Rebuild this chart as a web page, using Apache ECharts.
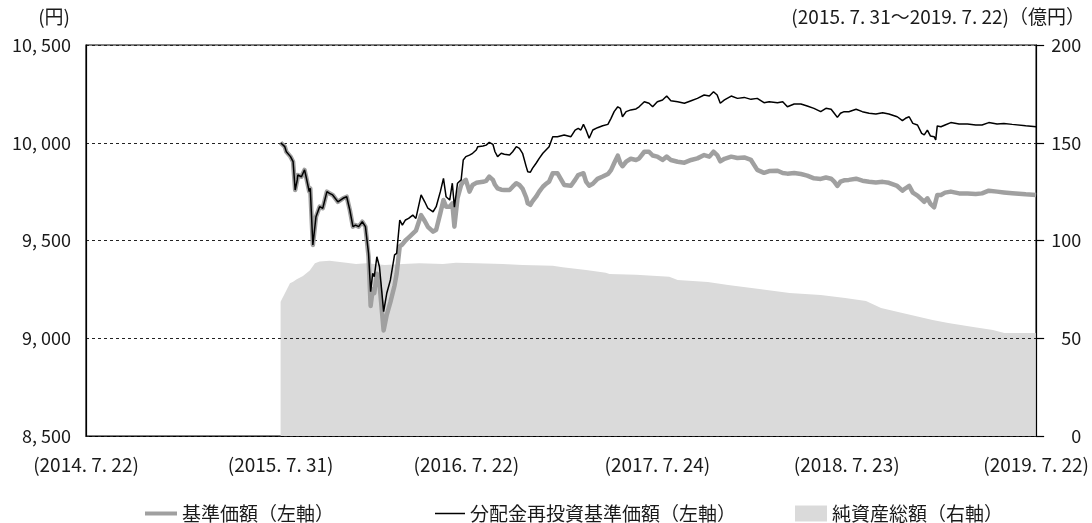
<!DOCTYPE html>
<html>
<head>
<meta charset="utf-8">
<title>基準価額・純資産の推移</title>
<script src="https://cdn.jsdelivr.net/npm/echarts@6/dist/echarts.min.js"></script>
<style>
	html, body { margin: 0; padding: 0; background: #fff; }
	#chart { width: 1092px; height: 523px; }
</style>
</head>
<body>
<div id="chart"></div>
<script>
// x軸の目盛り
var tickDates = ['2014-07-22', '2015-07-31', '2016-07-22', '2017-07-24', '2018-07-23', '2019-07-22'];
var tickLabels = ['(2014. 7. 22)', '(2015. 7. 31)', '(2016. 7. 22)', '(2017. 7. 24)', '(2018. 7. 23)', '(2019. 7. 22)'];

// 基準価額・分配金再投資基準価額の日付
var lineDates = [
	'2015-07-31', '2015-08-08', '2015-08-11', '2015-08-19', '2015-08-24', '2015-08-28', '2015-09-01', '2015-09-02', '2015-09-09', '2015-09-15',
	'2015-09-18', '2015-09-24', '2015-09-26', '2015-10-01', '2015-10-07', '2015-10-14', '2015-10-20', '2015-10-28', '2015-11-02', '2015-11-08',
	'2015-11-18', '2015-11-28', '2015-12-05', '2015-12-11', '2015-12-17', '2015-12-22', '2015-12-28',
	'2016-01-04', '2016-01-10', '2016-01-16', '2016-01-20', '2016-01-24', '2016-01-27', '2016-02-01', '2016-02-06', '2016-02-14', '2016-02-20',
	'2016-02-27', '2016-03-06', '2016-03-10', '2016-03-16', '2016-03-21', '2016-03-27', '2016-04-02', '2016-04-10', '2016-04-16', '2016-04-26',
	'2016-05-03', '2016-05-09', '2016-05-19', '2016-05-25', '2016-06-02', '2016-06-08', '2016-06-13', '2016-06-20', '2016-06-25', '2016-06-29',
	'2016-07-05', '2016-07-12', '2016-07-16', '2016-07-21', '2016-07-28', '2016-08-03', '2016-08-10', '2016-08-13', '2016-08-23', '2016-08-29',
	'2016-09-04', '2016-09-11', '2016-09-15', '2016-09-20', '2016-09-27', '2016-10-03', '2016-10-13', '2016-10-19', '2016-10-26', '2016-11-01',
	'2016-11-07', '2016-11-14', '2016-11-17', '2016-11-22', '2016-11-26', '2016-12-03', '2016-12-09', '2016-12-16', '2016-12-22', '2016-12-28',
	'2017-01-04', '2017-01-13', '2017-01-26', '2017-02-08', '2017-02-16', '2017-02-22', '2017-02-27', '2017-03-04', '2017-03-09', '2017-03-15',
	'2017-03-22', '2017-03-31', '2017-04-10', '2017-04-20', '2017-04-26', '2017-05-02', '2017-05-09', '2017-05-14', '2017-05-18', '2017-05-25',
	'2017-06-03', '2017-06-13', '2017-06-19', '2017-06-29', '2017-07-08', '2017-07-15', '2017-07-24', '2017-08-03', '2017-08-11', '2017-08-19',
	'2017-09-01', '2017-09-14', '2017-09-27', '2017-10-09', '2017-10-22', '2017-11-01', '2017-11-09', '2017-11-16', '2017-11-22', '2017-11-30',
	'2017-12-13', '2017-12-25',
	'2018-01-07', '2018-01-20', '2018-02-01', '2018-02-14', '2018-02-24', '2018-03-12', '2018-03-22', '2018-03-31', '2018-04-13', '2018-04-26',
	'2018-05-08', '2018-05-21', '2018-06-03', '2018-06-13', '2018-06-23', '2018-06-29', '2018-07-05', '2018-07-11', '2018-07-18', '2018-07-27',
	'2018-08-10', '2018-08-22', '2018-09-04', '2018-09-17', '2018-09-30', '2018-10-12', '2018-10-28', '2018-11-07', '2018-11-13', '2018-11-20',
	'2018-11-27', '2018-12-06', '2018-12-14', '2018-12-19', '2018-12-25', '2018-12-31',
	'2019-01-07', '2019-01-10', '2019-01-13', '2019-01-20', '2019-01-28', '2019-02-08', '2019-02-24', '2019-03-12', '2019-03-28', '2019-04-09',
	'2019-04-22', '2019-05-08', '2019-05-21', '2019-06-06', '2019-07-02', '2019-07-22'
];

// 分配金再投資基準価額（円）
var reinvestValues = [
	10000, 9980, 9954, 9929, 9903, 9758, 9810, 9835, 9826, 9861, 9826, 9750, 9767, 9477, 9622, 9673, 9665, 9750, 9741, 9733,
	9698, 9716, 9724, 9656, 9571, 9579, 9571,
	9596, 9571, 9434, 9238, 9332, 9315, 9417, 9366, 9136, 9230, 9298, 9426, 9434, 9605, 9579, 9605, 9613, 9630, 9613, 9733,
	9698, 9665, 9647, 9673, 9750, 9818, 9724, 9707, 9793, 9670,
	9793, 9810, 9912, 9929, 9937, 9946, 9963, 9980, 9983, 9988, 10002, 9992, 9954, 9929, 9946, 9941, 9937, 9954, 9980, 9971,
	9946, 9878, 9852, 9849, 9869, 9895, 9920, 9946, 9963, 9980,
	10031, 10031, 10040, 10031, 10065, 10074, 10065, 10094, 10065, 10023, 10065, 10077, 10087, 10094, 10125, 10159, 10184, 10176, 10133, 10159,
	10168, 10173, 10184, 10210, 10202, 10184, 10210, 10219, 10239, 10215, 10210, 10202, 10215, 10227, 10244, 10239, 10261, 10244, 10202, 10219,
	10239, 10227,
	10232, 10222, 10227, 10205, 10210, 10205, 10210, 10184, 10198, 10198, 10188, 10176, 10159, 10176, 10171, 10151, 10130, 10151, 10159, 10159,
	10171, 10159, 10151, 10147, 10154, 10147, 10133, 10113, 10125, 10133, 10099, 10091, 10048, 10040, 10065, 10034,
	10031, 10014, 10086, 10082, 10091, 10103, 10096, 10096, 10091, 10091, 10103, 10096, 10099, 10094, 10087, 10082
];

// 基準価額（円）
var navValues = [
	10000, 9980, 9954, 9929, 9903, 9758, 9810, 9835, 9826, 9861, 9826, 9750, 9767, 9477, 9622, 9673, 9665, 9750, 9741, 9733,
	9698, 9716, 9724, 9656, 9571, 9579, 9571,
	9596, 9571, 9420, 9165, 9250, 9230, 9330, 9280, 9040, 9120, 9185, 9270, 9330, 9470, 9480, 9500, 9515, 9535, 9550, 9630,
	9600, 9570, 9545, 9555, 9640, 9707, 9673, 9673, 9690, 9571,
	9716, 9784, 9800, 9810, 9750, 9784, 9795, 9798, 9800, 9805, 9827, 9810, 9785, 9767, 9760, 9758, 9758, 9775, 9793, 9784,
	9765, 9720, 9690, 9682, 9700, 9724, 9750, 9775, 9790, 9801,
	9844, 9844, 9784, 9780, 9810, 9835, 9840, 9844, 9801, 9780, 9790, 9815, 9827, 9840, 9860, 9895, 9934, 9895, 9880, 9903,
	9918, 9912, 9920, 9954, 9954, 9935, 9929, 9912, 9929, 9912, 9903, 9898, 9912, 9920, 9937, 9929, 9954, 9937, 9905, 9918,
	9929, 9922,
	9925, 9912, 9861, 9846, 9855, 9857, 9845, 9842, 9845, 9840, 9832, 9818, 9815, 9822, 9816, 9801, 9779, 9801, 9808, 9810,
	9816, 9806, 9801, 9797, 9800, 9795, 9779, 9755, 9767, 9779, 9745, 9730, 9710, 9698, 9716, 9687,
	9670, 9660, 9733, 9733, 9745, 9750, 9741, 9741, 9738, 9741, 9755, 9750, 9746, 9742, 9736, 9733
];

// 純資産総額（億円）
var assetDates = [
	'2015-07-31', '2015-08-18', '2015-08-24', '2015-08-31', '2015-09-12', '2015-09-25', '2015-10-05', '2015-10-14', '2015-11-02', '2015-12-04',
	'2015-12-23', '2016-01-12', '2016-02-16', '2016-03-22', '2016-04-23', '2016-06-07', '2016-07-02', '2016-08-10', '2016-09-30', '2016-11-07',
	'2017-01-04', '2017-01-23', '2017-03-09', '2017-04-16', '2017-04-23', '2017-06-13', '2017-08-16', '2017-09-01', '2017-10-29', '2017-12-07',
	'2018-02-05', '2018-04-04', '2018-06-03', '2018-07-20', '2018-08-29', '2018-09-27', '2018-11-07', '2019-01-04', '2019-02-03', '2019-03-23',
	'2019-04-30', '2019-05-22', '2019-07-22'
];
var assetValues = [
	68.7, 78.1, 78.9, 80.2, 81.8, 84.6, 88.3, 89.2, 89.7, 88.6,
	88.0, 88.3, 87.5, 88.0, 88.3, 88.0, 88.6, 88.3, 88.0, 87.5,
	87.1, 86.3, 84.9, 83.5, 82.9, 82.5, 81.5, 79.8, 78.8, 77.2,
	75.2, 73.1, 72.1, 70.6, 69.1, 65.5, 62.9, 59.3, 57.8, 55.8,
	54.2, 52.7, 52.7
];

var FONT = '"Noto Sans CJK JP", "Noto Sans", sans-serif';
var TEXT = '#1a1a1a';

function toTime(s) {
	var p = s.split('-');
	return Date.UTC(+p[0], +p[1] - 1, +p[2]);
}
function zip(dates, values) {
	return dates.map(function (d, i) { return [toTime(d), values[i]]; });
}
function yen(v) {
	var s = String(v);
	return s.length > 3 ? s.slice(0, s.length - 3) + ', ' + s.slice(-3) : s;
}

var tickTimes = tickDates.map(toTime);

window.onload = function () {
	var chart = echarts.init(document.getElementById('chart'), null, { renderer: 'canvas' });
	var legendText = { fontSize: 19, color: TEXT, fontFamily: FONT };
	var option = {
		animation: false,
		backgroundColor: '#fff',
		textStyle: { fontFamily: FONT },
		grid: {
			left: 86, right: 55, top: 45, bottom: 87,
			show: true, borderColor: '#000', borderWidth: 1.2, backgroundColor: 'transparent'
		},
		graphic: [
			{ type: 'text', right: 1022, top: 7, style: { text: '(円)', font: '19px ' + FONT, fill: TEXT } },
			{ type: 'text', right: 7, top: 7, style: { text: '(2015. 7. 31〜2019. 7. 22)（億円）', font: '19px ' + FONT, fill: TEXT } }
		],
		legend: [{
			left: 140, top: 499, icon: 'rect', itemWidth: 32, itemHeight: 4, itemGap: 8,
			textStyle: legendText,
			data: ['基準価額（左軸）']
		}, {
			left: 430, top: 499, icon: 'rect', itemWidth: 30, itemHeight: 1.5,
			textStyle: legendText,
			data: ['分配金再投資基準価額（左軸）']
		}, {
			left: 790, top: 499, icon: 'rect', itemWidth: 32, itemHeight: 16,
			textStyle: legendText,
			data: ['純資産総額（右軸）']
		}],
		xAxis: {
			type: 'value',
			min: tickTimes[0],
			max: tickTimes[tickTimes.length - 1],
			axisLine: { lineStyle: { color: '#000', width: 1.2 } },
			axisTick: { show: false },
			splitLine: { show: false },
			axisLabel: {
				customValues: tickTimes,
				showMinLabel: true,
				showMaxLabel: true,
				margin: 19,
				fontSize: 19,
				color: TEXT,
				fontFamily: FONT,
				formatter: function (v) {
					var best = 0;
					for (var i = 1; i < tickTimes.length; i++) {
						if (Math.abs(tickTimes[i] - v) < Math.abs(tickTimes[best] - v)) best = i;
					}
					return tickLabels[best];
				}
			}
		},
		yAxis: [{
			type: 'value',
			min: 8500, max: 10500, interval: 500,
			z: 2,
			axisLine: { show: true, lineStyle: { color: '#000', width: 1.2 } },
			axisTick: { show: false },
			axisLabel: { margin: 15, fontSize: 18, color: TEXT, fontFamily: FONT, formatter: yen },
			splitLine: { show: true, lineStyle: { color: '#222', width: 1, type: [3, 3] } }
		}, {
			type: 'value',
			min: 0, max: 200, interval: 50,
			position: 'right',
			z: 2,
			axisLine: { show: true, lineStyle: { color: '#000', width: 1.2 } },
			axisTick: { show: true, length: 8, lineStyle: { color: '#000', width: 1.2 } },
			axisLabel: { margin: 45, align: 'right', fontSize: 18, color: TEXT, fontFamily: FONT },
			splitLine: { show: false }
		}],
		series: [{
			name: '純資産総額（右軸）',
			type: 'line',
			yAxisIndex: 1,
			z: 1,
			showSymbol: false,
			itemStyle: { color: '#dadada' },
			lineStyle: { width: 0, color: '#dadada' },
			areaStyle: { color: '#dadada', opacity: 1 },
			data: zip(assetDates, assetValues)
		}, {
			name: '基準価額（左軸）',
			type: 'line',
			yAxisIndex: 0,
			z: 3,
			showSymbol: false,
			itemStyle: { color: '#a0a0a0' },
			lineStyle: { width: 4.5, color: '#a0a0a0', join: 'round' },
			data: zip(lineDates, navValues)
		}, {
			name: '分配金再投資基準価額（左軸）',
			type: 'line',
			yAxisIndex: 0,
			z: 4,
			showSymbol: false,
			itemStyle: { color: '#000' },
			lineStyle: { width: 1.5, color: '#000' },
			data: zip(lineDates, reinvestValues)
		}]
	};
	chart.setOption(option);
};
</script>
</body>
</html>
